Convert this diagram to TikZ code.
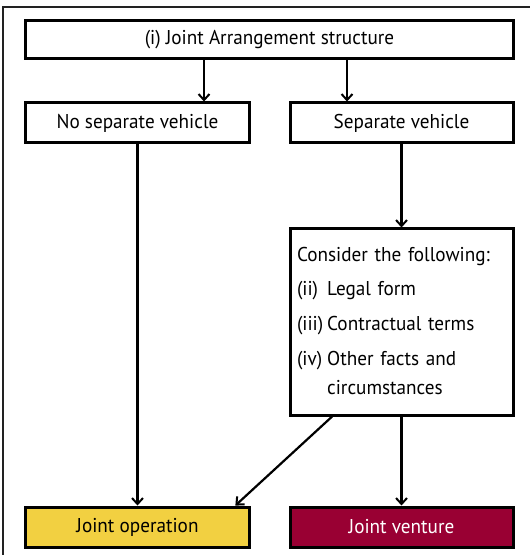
\documentclass[tikz,border=0pt]{standalone}
\usepackage{fontspec}
\setmainfont{PT Sans}[FakeStretch=0.96]
\usetikzlibrary{arrows.meta,calc}
\definecolor{joyellow}{HTML}{F2D041}
\definecolor{jvred}{HTML}{990033}
\definecolor{framegray}{HTML}{222222}
\tikzset{
  box/.style={draw=black, line width=3bp, rectangle, inner sep=0pt,
    font=\fontsize{20bp}{24bp}\selectfont, text=black},
  arr/.style={draw=black, line width=2.2bp, -{Straight Barb[length=6bp,width=11bp,line width=2bp]}},
  framed/.style={draw=framegray, line width=1.6bp}
}
\begin{document}
\begin{tikzpicture}[x=1bp,y=-1bp]
\useasboundingbox (0,0) rectangle (530,555);
% outer frame (top and left edges visible)
\coordinate (fTL) at (3,7);
\coordinate (fTR) at (530,7);
\coordinate (fBL) at (3,555);
\draw[framed] (fTR) -- (fTL) -- (fBL);
% nodes
\node[box, minimum width=487bp, minimum height=38bp] (top) at (269.5,40) {(i) Joint Arrangement structure};
\node[box, minimum width=223bp, minimum height=40bp] (nsv) at (137.5,123) {No separate vehicle};
\node[box, minimum width=223bp, minimum height=40bp] (sv) at (401.5,123) {Separate vehicle};
\node[box, minimum width=223bp, minimum height=186bp, text width=209bp, inner xsep=7bp, align=left] (cons) at (401.5,322) {%
  \renewcommand\arraystretch{1.2}%
  \begin{tabular}{@{}l@{\hspace{4bp}}l@{}}
  \multicolumn{2}{@{}l@{}}{Consider the following:}\\[6bp]
  (ii) & Legal form\\[6bp]
  (iii) & Contractual terms\\[6bp]
  (iv) & Other facts and\\
       & circumstances
  \end{tabular}};
\node[box, fill=joyellow, minimum width=223bp, minimum height=40bp] (jo) at (137.5,527) {Joint operation};
\node[box, fill=jvred, text=white, minimum width=223bp, minimum height=40bp] (jv) at (401.5,527) {Joint venture};
% connectors
\coordinate (xa) at (204,0);
\coordinate (xb) at (347,0);
\draw[arr] (top.south -| xa) -- (nsv.north -| xa);
\draw[arr] (top.south -| xb) -- (sv.north -| xb);
\draw[arr] (nsv.south) -- (jo.north);
\draw[arr] (sv.south) -- (cons.north);
\draw[arr] (cons.south) -- (jv.north);
\draw[arr] ($(cons.south west)!0.193!(cons.south east)$) -- ($(jo.north west)!0.933!(jo.north east)$);
\end{tikzpicture}
\end{document}
